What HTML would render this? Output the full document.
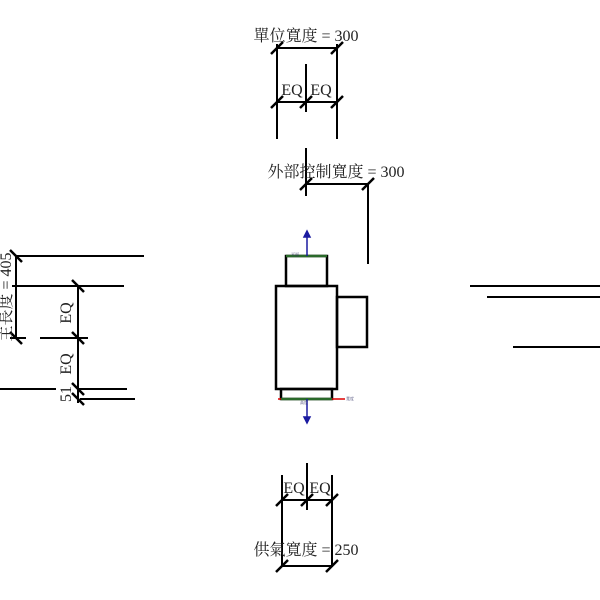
<!DOCTYPE html>
<html><head><meta charset="utf-8"><style>body{margin:0;background:#fff}svg{display:block}text{font-family:"Liberation Serif","Noto Serif CJK SC",serif;font-size:16px;fill:#222}</style></head><body>
<svg width="600" height="600" viewBox="0 0 600 600" xmlns="http://www.w3.org/2000/svg">
<defs><path id="t" d="M-6 6L6-6" stroke="#000" stroke-width="2.5"/></defs>
<g stroke="#000" stroke-width="2" fill="none">
<line x1="277" y1="48" x2="337" y2="48"/>
<line x1="277" y1="44" x2="277" y2="139"/>
<line x1="337" y1="44" x2="337" y2="139"/>
<line x1="306" y1="64" x2="306" y2="112"/>
<line x1="277" y1="102" x2="337" y2="102"/>
<line x1="306" y1="148" x2="306" y2="196"/>
<line x1="306" y1="184" x2="368" y2="184"/>
<line x1="368" y1="184" x2="368" y2="264"/>
<rect x="286" y="256" width="41" height="30" stroke-width="2.5"/>
<rect x="276" y="286" width="61" height="103" stroke-width="2.5"/>
<rect x="337" y="297" width="30" height="50" stroke-width="2.5"/>
<rect x="281" y="389" width="51" height="10" stroke-width="2.5"/>
<line x1="15" y1="256" x2="144" y2="256"/>
<line x1="12" y1="286" x2="124" y2="286"/>
<line x1="16" y1="256" x2="16" y2="338"/>
<line x1="10" y1="338" x2="26" y2="338"/>
<line x1="40" y1="338" x2="88" y2="338"/>
<line x1="78" y1="286" x2="78" y2="403"/>
<line x1="0" y1="389" x2="56" y2="389"/>
<line x1="78" y1="389" x2="127" y2="389"/>
<line x1="80" y1="399" x2="135" y2="399"/>
<line x1="470" y1="286" x2="600" y2="286"/>
<line x1="487" y1="297" x2="600" y2="297"/>
<line x1="513" y1="347" x2="600" y2="347"/>
<line x1="282" y1="475" x2="282" y2="567"/>
<line x1="332" y1="475" x2="332" y2="567"/>
<line x1="307" y1="463" x2="307" y2="510"/>
<line x1="282" y1="500" x2="332" y2="500"/>
<line x1="282" y1="566" x2="332" y2="566"/>
</g>
<g stroke="#2a6a2a" stroke-width="2.5"><line x1="286" y1="256" x2="327" y2="256"/><line x1="281" y1="399" x2="332" y2="399"/></g>
<line x1="278" y1="399" x2="281" y2="399" stroke="#d00" stroke-width="1.5"/>
<line x1="332" y1="399" x2="345" y2="399" stroke="#d00" stroke-width="1.5"/>
<g stroke="#1a1aa0" stroke-width="1.5" fill="#1a1aa0">
<line x1="307" y1="256" x2="307" y2="236"/><path d="M304 237L307 231L310 237Z"/>
<line x1="307" y1="399" x2="307" y2="418"/><path d="M304 417L307 423L310 417Z"/>
</g>
<g>
<use href="#t" x="277" y="48"/><use href="#t" x="337" y="48"/>
<use href="#t" x="277" y="102"/><use href="#t" x="306" y="102"/><use href="#t" x="337" y="102"/>
<use href="#t" x="306" y="184"/><use href="#t" x="368" y="184"/>
<use href="#t" x="282" y="500"/><use href="#t" x="307" y="500"/><use href="#t" x="332" y="500"/>
<use href="#t" x="282" y="566"/><use href="#t" x="332" y="566"/>
<use href="#t" x="16" y="256" transform="rotate(90 16 256)"/><use href="#t" x="16" y="338" transform="rotate(90 16 338)"/>
<use href="#t" x="78" y="286" transform="rotate(90 78 286)"/><use href="#t" x="78" y="338" transform="rotate(90 78 338)"/>
<use href="#t" x="78" y="389" transform="rotate(90 78 389)"/><use href="#t" x="78" y="399" transform="rotate(90 78 399)"/>
</g>
<text x="306" y="41" text-anchor="middle">單位寬度 = 300</text>
<text x="292" y="95" text-anchor="middle">EQ</text><text x="321" y="95" text-anchor="middle">EQ</text>
<text x="336" y="177" text-anchor="middle">外部控制寬度 = 300</text>
<text x="294" y="493" text-anchor="middle">EQ</text><text x="320" y="493" text-anchor="middle">EQ</text>
<text x="306" y="555" text-anchor="middle">供氣寬度 = 250</text>
<text transform="translate(11 297) rotate(-90)" text-anchor="middle">主長度 = 405</text>
<text transform="translate(71 313) rotate(-90)" text-anchor="middle">EQ</text>
<text transform="translate(71 364) rotate(-90)" text-anchor="middle">EQ</text>
<text transform="translate(71 394) rotate(-90)" text-anchor="middle">51</text>
<text x="291" y="256" style="font-size:4px;fill:#336">平面</text>
<text x="300" y="404" style="font-size:4px;fill:#336">高度</text>
<text x="346" y="400" style="font-size:4px;fill:#336">寬度</text>
</svg>
</body></html>
